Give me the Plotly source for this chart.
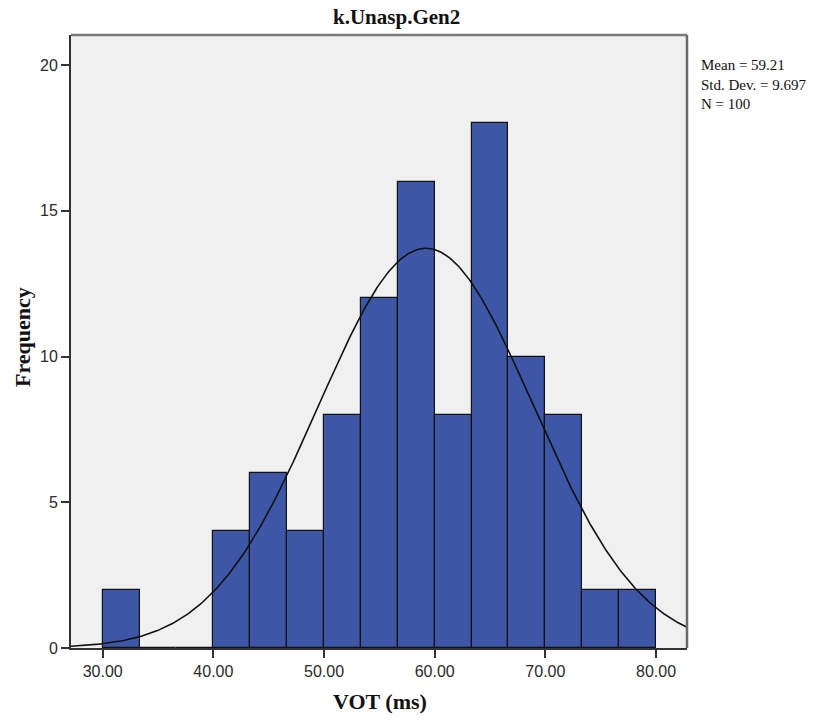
import numpy as np
import plotly.graph_objects as go

# ---- data ----
bin_start = 30.0
bin_width = 10.0 / 3.0
counts = [2, 0, 0, 4, 6, 4, 8, 12, 16, 8, 18, 10, 8, 2, 2]
x_tick_vals = [30, 40, 50, 60, 70, 80]
y_tick_vals = [0, 5, 10, 15, 20]
mean_val = 59.21
sd_val = 9.697
n_val = 100
title_text = "k.Unasp.Gen2"
x_title = "VOT (ms)"
y_title = "Frequency"
stats_lines = ["Mean = 59.21", "Std. Dev. = 9.697", "N = 100"]

x_range = [27.136, 82.80]
y_range = [0, 21.03]

centers = [bin_start + bin_width * (i + 0.5) for i in range(len(counts))]

# normal curve fitted from mean / sd / N
xc = np.linspace(x_range[0], x_range[1], 400)
yc = n_val * bin_width / (sd_val * np.sqrt(2 * np.pi)) * np.exp(-0.5 * ((xc - mean_val) / sd_val) ** 2)

fig = go.Figure()
fig.add_trace(go.Bar(
    x=centers, y=counts, width=bin_width,
    marker=dict(color="rgb(61,86,166)", line=dict(color="#111111", width=1.2)),
    hoverinfo="x+y", showlegend=False,
))
fig.add_trace(go.Scatter(
    x=xc, y=yc, mode="lines",
    line=dict(color="#111111", width=1.6), showlegend=False, hoverinfo="skip",
))

L, R, T, B = 71, 135, 35, 72
W, H = 822, 720
pw, ph = W - L - R, H - T - B

fig.update_layout(
    width=W, height=H, autosize=False,
    margin=dict(l=L, r=R, t=T, b=B, pad=0),
    paper_bgcolor="white", plot_bgcolor="#eff0ef",
    bargap=0,
    font=dict(family="Liberation Sans, Arial, sans-serif", size=16, color="#222222"),
)
fig.update_xaxes(
    range=x_range, tickvals=x_tick_vals, tickformat=".2f",
    ticks="outside", ticklen=8, tickwidth=1.5, tickcolor="#333333",
    showline=True, linecolor="#333333", linewidth=2,
    showgrid=False, zeroline=False,
    tickfont=dict(size=16, color="#2a2a2a"),
)
fig.update_yaxes(
    range=y_range, tickvals=y_tick_vals,
    ticks="outside", ticklen=8, tickwidth=1.5, tickcolor="#333333",
    showline=True, linecolor="#333333", linewidth=2,
    showgrid=False, zeroline=False,
    tickfont=dict(size=16, color="#2a2a2a"),
)

# top and right frame
fig.add_shape(type="line", xref="paper", yref="paper", x0=0, x1=1, y0=1, y1=1,
              line=dict(color="#7a7a7a", width=2.5))
fig.add_shape(type="line", xref="paper", yref="paper", x0=1, x1=1, y0=0, y1=1,
              line=dict(color="#6a6a6a", width=2.5))

serif = "Liberation Serif, Times New Roman, serif"

# chart title
fig.add_annotation(text="<b>%s</b>" % title_text, xref="paper", yref="paper",
                   x=(396 - L) / pw, y=1 + (T - 17) / ph, showarrow=False,
                   xanchor="center", yanchor="middle",
                   font=dict(family=serif, size=21, color="#111111"))
# x title
fig.add_annotation(text="<b>%s</b>" % x_title, xref="paper", yref="paper",
                   x=(380 - L) / pw, y=-(701 - (H - B)) / ph, showarrow=False,
                   xanchor="center", yanchor="middle",
                   font=dict(family=serif, size=22, color="#111111"))
# y title
fig.add_annotation(text="<b>%s</b>" % y_title, xref="paper", yref="paper",
                   x=-(L - 22) / pw, y=(H - B - 337) / ph, showarrow=False,
                   xanchor="center", yanchor="middle", textangle=-90,
                   font=dict(family=serif, size=22, color="#111111"))
# stats text (one block)
fig.add_annotation(text="<br>".join(stats_lines), xref="paper", yref="paper",
                   x=(699 - L) / pw, y=(H - B - 85) / ph, showarrow=False,
                   xanchor="left", yanchor="middle", align="left",
                   font=dict(family=serif, size=15, color="#111111"))

fig.write_html("out.html",
               config={"displayModeBar": False},
               post_script="document.body.style.margin='0';document.body.style.padding='0';")
